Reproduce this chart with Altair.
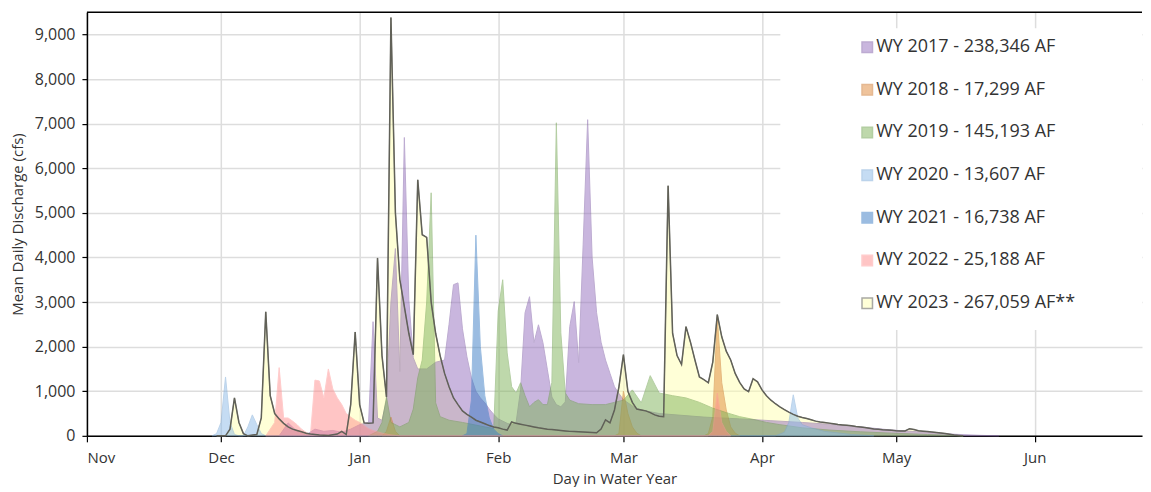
import altair as alt
import pandas as pd

# ---- data (day in water year: Oct 1 = 1, Nov 1 = 32) ----
SERIES = [
    "WY 2017 - 238,346 AF",
    "WY 2018 - 17,299 AF",
    "WY 2019 - 145,193 AF",
    "WY 2020 - 13,607 AF",
    "WY 2021 - 16,738 AF",
    "WY 2022 - 25,188 AF",
    "WY 2023 - 267,059 AF**",
]

WY2017 = [(75, 0), (77, 290), (79, 100), (81, 20), (83, 150), (85, 100), (87, 120), (89, 80), (91, 150), (93, 250),
          (95, 300), (96, 2560), (97, 400), (98, 350), (99, 800), (100, 3000), (101, 4200), (102, 1440), (103, 6690),
          (104, 3050), (105, 1750), (106, 1500), (108, 1500), (110, 1650), (112, 1700), (113, 2500), (114, 3390),
          (115, 3430), (116, 2400), (117, 1770), (118, 1300), (119, 1000), (120, 850), (121, 740), (122, 600),
          (123, 480), (124, 380), (125, 330), (126, 280), (127, 250), (128, 300), (129, 1030), (130, 2760),
          (131, 3120), (132, 2090), (133, 2490), (134, 2090), (135, 1480), (136, 870), (137, 700), (138, 650),
          (139, 760), (140, 2450), (141, 3010), (142, 1640), (143, 4300), (144, 7090), (145, 4000), (146, 2760),
          (147, 2100), (148, 1700), (149, 1400), (150, 1100), (151, 950), (152, 810), (155, 600), (160, 500),
          (170, 420), (178, 380), (185, 340), (192, 300), (198, 260), (205, 200), (212, 130), (218, 90), (225, 40),
          (232, 10), (236, 0)]

WY2018 = [(98, 0), (99, 100), (100, 420), (101, 100), (102, 0), (150, 0), (151, 50), (152, 1000), (153, 500),
          (154, 200), (155, 60), (156, 0), (170, 0), (171, 50), (172, 430), (173, 2650), (174, 1190), (175, 580),
          (176, 200), (177, 60), (178, 0)]

WY2019 = [(95, 0), (97, 100), (98, 300), (99, 870), (100, 300), (102, 200), (104, 300), (105, 600), (106, 1300),
          (107, 1700), (108, 3000), (109, 5450), (110, 740), (111, 430), (113, 350), (116, 300), (120, 220),
          (123, 160), (124, 2800), (125, 3500), (126, 1860), (127, 1100), (128, 960), (129, 1190), (130, 900),
          (131, 650), (132, 750), (133, 810), (134, 700), (135, 700), (136, 1200), (137, 7020), (138, 2310),
          (139, 960), (140, 800), (142, 720), (145, 700), (148, 700), (150, 750), (152, 800), (154, 1030),
          (156, 740), (158, 1350), (160, 960), (163, 900), (166, 850), (169, 750), (172, 620), (175, 520),
          (178, 430), (181, 370), (184, 300), (187, 250), (192, 180), (198, 130), (205, 90), (212, 60), (220, 30),
          (228, 0)]

WY2020 = [(60, 0), (61, 50), (62, 300), (63, 1320), (64, 300), (65, 30), (66, 0), (67, 0), (68, 200), (69, 470),
          (70, 250), (71, 50), (72, 0), (186, 0), (188, 80), (189, 300), (190, 920), (191, 400), (192, 250),
          (194, 180), (197, 100), (203, 30), (208, 0)]

WY2021 = [(116, 0), (117, 50), (118, 800), (119, 4500), (120, 2000), (121, 900), (122, 400), (123, 150),
          (124, 50), (125, 0)]

WY2022 = [(72, 0), (74, 300), (75, 1530), (76, 400), (77, 400), (78, 330), (79, 250), (80, 150), (81, 80),
          (82, 20), (83, 1250), (84, 1230), (85, 850), (86, 1500), (87, 1050), (88, 850), (89, 700), (90, 500),
          (91, 420), (92, 350), (93, 300), (94, 230), (95, 160), (96, 120), (97, 90), (98, 60), (100, 20), (102, 0),
          (171, 0), (172, 100), (173, 960), (174, 300), (175, 100), (176, 0)]

WY2023 = [(61, 0), (63, 0), (64, 150), (65, 850), (66, 300), (67, 50), (68, 0), (70, 30), (71, 400), (72, 2780),
          (73, 900), (74, 500), (75, 380), (76, 280), (77, 200), (78, 150), (79, 120), (80, 90), (81, 60), (82, 40),
          (83, 30), (84, 20), (86, 10), (88, 40), (89, 100), (90, 30), (91, 700), (92, 2330), (93, 700), (94, 290),
          (95, 280), (96, 290), (97, 3990), (98, 1800), (99, 870), (100, 9380), (101, 5000), (102, 3500),
          (103, 2900), (104, 2300), (105, 1820), (106, 5740), (107, 4510), (108, 4450), (109, 3000), (110, 2300),
          (111, 1800), (112, 1400), (113, 1100), (114, 850), (115, 700), (116, 560), (117, 480), (118, 420),
          (119, 350), (120, 310), (121, 270), (122, 230), (123, 200), (124, 180), (125, 150), (126, 130), (127, 310),
          (128, 280), (129, 260), (130, 240), (131, 220), (132, 200), (133, 180), (134, 165), (135, 150), (136, 140),
          (137, 130), (138, 120), (139, 110), (140, 100), (141, 95), (142, 90), (143, 85), (144, 80), (145, 75),
          (146, 70), (147, 150), (148, 360), (149, 290), (150, 580), (151, 1100), (152, 1820), (153, 1000),
          (154, 750), (155, 600), (156, 580), (157, 560), (158, 520), (159, 470), (160, 440), (161, 430),
          (162, 5610), (163, 2300), (164, 1800), (165, 1600), (166, 2450), (167, 2100), (168, 1700), (169, 1320),
          (170, 1260), (171, 1190), (172, 1660), (173, 2720), (174, 2220), (175, 1900), (176, 1700), (177, 1400),
          (178, 1200), (179, 1050), (180, 990), (181, 1280), (182, 1210), (183, 1030), (184, 900), (185, 800),
          (186, 720), (187, 650), (188, 590), (189, 530), (190, 480), (191, 440), (192, 410), (193, 390), (194, 360),
          (195, 330), (196, 310), (197, 300), (198, 285), (199, 270), (200, 255), (201, 245), (202, 235), (203, 225),
          (204, 210), (205, 200), (206, 185), (207, 170), (208, 155), (209, 145), (210, 135), (211, 130), (212, 125),
          (213, 115), (214, 110), (215, 110), (216, 160), (217, 140), (218, 115), (219, 105), (220, 95), (221, 85),
          (222, 75), (223, 65), (224, 50), (225, 35), (226, 20), (227, 10), (228, 0)]

MONTH_DAYS = [32, 62, 93, 124, 152, 183, 213, 244]
MONTH_LABELS = ["Nov", "Dec", "Jan", "Feb", "Mar", "Apr", "May", "Jun"]
Y_TICKS = [0, 1000, 2000, 3000, 4000, 5000, 6000, 7000, 8000, 9000]

FILL = ["#9470be", "#e0893a", "#7fb35a", "#8dbbe8", "#3a7cc4", "#ff8c8c", "#ffffb0"]
STROKE = ["#7d5aa6", "#cc7428", "#6a9e48", "#7aa9d8", "#3a7cc4", "#ff9a9a", "#55554a"]

rows = []
for name, pts in zip(SERIES, [WY2017, WY2018, WY2019, WY2020, WY2021, WY2022, WY2023]):
    for d, v in pts:
        rows.append({"series": name, "day": d, "cfs": v})
df = pd.DataFrame(rows)

W, H = 1056, 424
FONT = "Open Sans"

label_expr = "[" + ",".join("'%s'" % m for m in MONTH_LABELS) + "][indexof([" + ",".join(
    str(d) for d in MONTH_DAYS) + "], datum.value)]"

x_enc = alt.X("day:Q", scale=alt.Scale(domain=[32, 268], nice=False, zero=False),
              axis=alt.Axis(values=MONTH_DAYS, labelExpr=label_expr, title="Day in Water Year",
                            tickSize=6, labelPadding=9, titlePadding=6, grid=True))
y_enc = alt.Y("cfs:Q", stack=None, scale=alt.Scale(domain=[0, 9500], nice=False),
              axis=alt.Axis(values=Y_TICKS, labelExpr="format(datum.value, ',')",
                            title="Mean Daily Discharge (cfs)", labelFontSize=16,
                            tickSize=5, labelPadding=7, titlePadding=9, grid=True))
fill_enc = alt.Fill("series:N", scale=alt.Scale(domain=SERIES, range=FILL),
                    legend=alt.Legend(orient="none", legendX=772, legendY=26, title=None,
                                      symbolType="square", symbolSize=110, symbolStrokeWidth=1.5,
                                      labelFont=FONT, labelFontSize=18, labelColor="#333333",
                                      labelOffset=0, rowPadding=24.7, padding=0, labelLimit=400))
stroke_enc = alt.Stroke("series:N", scale=alt.Scale(domain=SERIES, range=STROKE))

base = alt.Chart(df)

area2023 = base.transform_filter(alt.datum.series == SERIES[-1]).mark_area(
    opacity=0.5, strokeWidth=1, interpolate="linear").encode(x=x_enc, y=y_enc, fill=fill_enc, stroke=stroke_enc)

areas = base.transform_filter(alt.datum.series != SERIES[-1]).mark_area(
    opacity=0.5, strokeWidth=1, interpolate="linear").encode(x=x_enc, y=y_enc, fill=fill_enc, stroke=stroke_enc)

line2023 = base.transform_filter(alt.datum.series == SERIES[-1]).mark_line(
    color="#616158", strokeWidth=1.5).encode(x=x_enc, y=y_enc)

deco = alt.Data(values=[{}])
backdrop = alt.Chart(deco).mark_rect(color="white").encode(
    x=alt.value(694), x2=alt.value(W), y=alt.value(16), y2=alt.value(318))
topline = alt.Chart(deco).mark_rule(color="black", strokeWidth=1.5).encode(
    x=alt.value(0), x2=alt.value(W), y=alt.value(0))

chart = alt.layer(area2023, areas, line2023, backdrop, topline).properties(
    width=W, height=H, padding={"left": 2, "top": 3, "right": 0, "bottom": 0}
).configure_view(strokeWidth=0).configure_axis(
    labelFont=FONT, titleFont=FONT, labelFontSize=15, titleFontSize=15,
    labelColor="#333333", titleColor="#333333", titleFontWeight="normal",
    domainColor="black", domainWidth=1.5, tickColor="black", tickWidth=1.2,
    gridColor="#dddddd", gridWidth=1.5
)

chart.save("out.html", embed_options={"renderer": "svg", "actions": False})
